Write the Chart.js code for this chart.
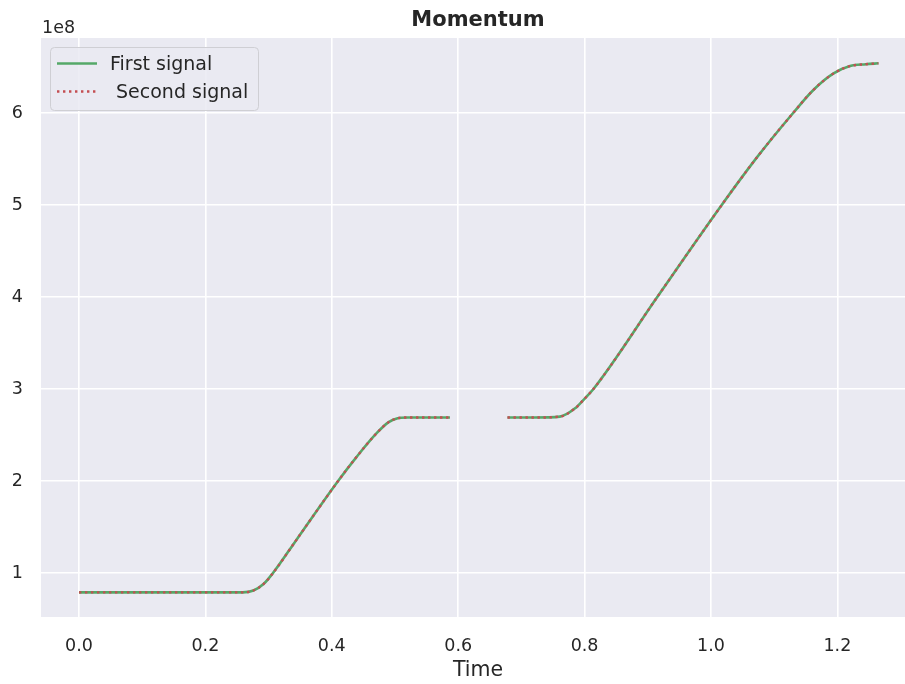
<!DOCTYPE html>
<html>
<head>
<meta charset="utf-8">
<script src="https://cdn.jsdelivr.net/npm/chart.js@4/dist/chart.umd.min.js"></script>
<style>
  html, body { margin: 0; padding: 0; background: #ffffff; }
  #wrap { width: 905px; height: 684px; }
</style>
</head>
<body>
<div id="wrap"><canvas id="chart" width="905" height="684"></canvas></div>
<script>
// Sampled momentum trace (time in s, momentum in units of the 1e8 offset)
const time = [0.000, 0.100, 0.200, 0.259, 0.276, 0.292, 0.307, 0.344, 0.410, 0.439, 0.471, 0.490, 0.503, 0.520, 0.587,
              0.630,
              0.678, 0.720, 0.761, 0.785, 0.798, 0.814, 0.915, 1.017, 1.073, 1.130, 1.162, 1.194, 1.220, 1.245, 1.265];
const firstSignal = [0.79, 0.79, 0.79, 0.79, 0.81, 0.88, 1.00, 1.36, 2.00, 2.26, 2.52, 2.64, 2.68, 2.69, 2.69,
                     null,
                     2.69, 2.69, 2.70, 2.79, 2.88, 3.00, 4.00, 5.00, 5.52, 6.00, 6.25, 6.43, 6.51, 6.53, 6.54];
const secondSignal = [0.79, 0.79, 0.79, 0.79, 0.81, 0.88, 1.00, 1.36, 2.00, 2.26, 2.52, 2.64, 2.68, 2.69, 2.69,
                      null,
                      2.69, 2.69, 2.70, 2.79, 2.88, 3.00, 4.00, 5.00, 5.52, 6.00, 6.25, 6.43, 6.51, 6.53, 6.54];
const seriesNames = ['First signal', ' Second signal'];
const scaleExp = 1e8;

const xTicks = [0.0, 0.2, 0.4, 0.6, 0.8, 1.0, 1.2];
const xTickLabels = ['0.0', '0.2', '0.4', '0.6', '0.8', '1.0', '1.2'];
const yTicks = [1, 2, 3, 4, 5, 6];
const yTickLabels = ['1', '2', '3', '4', '5', '6'];

const chartTitle = 'Momentum';
const xAxisTitle = 'Time';
const offsetText = '1e8';

const TEXT = '#262626';
const FONT = 'DejaVu Sans';
// horizontal centre of the axes box (the box runs past the right edge of the canvas)
const AXES_CENTER_X = 478;

const toPoints = (vals) => time.map((t, i) => ({ x: t, y: vals[i] === null ? null : vals[i] * scaleExp }));

// Axes face, titles, offset text and legend drawn on the canvas
const decorations = {
  id: 'decorations',
  beforeDraw(chart) {
    const { ctx, chartArea: a } = chart;
    ctx.save();
    ctx.fillStyle = '#EAEAF2';
    ctx.fillRect(a.left, a.top, a.right - a.left, a.bottom - a.top);
    ctx.restore();
  },
  afterDraw(chart) {
    const { ctx, chartArea: a } = chart;
    ctx.save();
    ctx.fillStyle = TEXT;
    ctx.textBaseline = 'middle';

    // title
    ctx.font = 'bold 21px "' + FONT + '"';
    ctx.textAlign = 'center';
    ctx.fillText(chartTitle, AXES_CENTER_X, 21);

    // x axis label
    ctx.font = '20.5px "' + FONT + '"';
    ctx.fillText(xAxisTitle, AXES_CENTER_X, 671);

    // offset label for the y axis
    ctx.font = '17.5px "' + FONT + '"';
    ctx.textAlign = 'left';
    ctx.fillText(offsetText, a.left + 1, 28.5);

    // legend box
    const bx = 50.5, by = 47.5, bw = 208, bh = 63, r = 4;
    ctx.beginPath();
    ctx.moveTo(bx + r, by);
    ctx.arcTo(bx + bw, by, bx + bw, by + bh, r);
    ctx.arcTo(bx + bw, by + bh, bx, by + bh, r);
    ctx.arcTo(bx, by + bh, bx, by, r);
    ctx.arcTo(bx, by, bx + bw, by, r);
    ctx.closePath();
    ctx.fillStyle = 'rgba(234,234,242,0.85)';
    ctx.fill();
    ctx.strokeStyle = '#CFCFD4';
    ctx.lineWidth = 1;
    ctx.stroke();

    const rows = [63.5, 91.5];
    chart.data.datasets.forEach((ds, i) => {
      const y = rows[i];
      ctx.beginPath();
      ctx.setLineDash(ds.borderDash || []);
      ctx.strokeStyle = ds.borderColor;
      ctx.lineWidth = ds.borderWidth;
      ctx.moveTo(57, y);
      ctx.lineTo(97, y);
      ctx.stroke();
      ctx.setLineDash([]);
      ctx.fillStyle = TEXT;
      ctx.font = '19px "' + FONT + '"';
      ctx.textAlign = 'left';
      ctx.textBaseline = 'middle';
      ctx.fillText(ds.label, 110, y + 1.5);
    });
    ctx.restore();
  }
};

new Chart(document.getElementById('chart'), {
  type: 'line',
  data: {
    datasets: [
      {
        label: seriesNames[0],
        data: toPoints(firstSignal),
        borderColor: '#55A868',
        borderWidth: 2.6,
        pointRadius: 0,
        fill: false,
        spanGaps: false,
        cubicInterpolationMode: 'monotone',
        order: 2
      },
      {
        label: seriesNames[1],
        data: toPoints(secondSignal),
        borderColor: '#C44E52',
        borderWidth: 2.4,
        borderDash: [2.4, 3.6],
        pointRadius: 0,
        fill: false,
        spanGaps: false,
        cubicInterpolationMode: 'monotone',
        order: 1
      }
    ]
  },
  options: {
    responsive: false,
    animation: false,
    devicePixelRatio: 1,
    layout: { padding: { top: 38, left: 0, right: 0, bottom: 0 } },
    plugins: {
      legend: { display: false },
      tooltip: { enabled: false },
      title: { display: false }
    },
    scales: {
      x: {
        type: 'linear',
        min: -0.0601,
        max: 1.307,
        afterBuildTicks: (s) => { s.ticks = xTicks.map(v => ({ value: v })); },
        afterFit: (s) => { s.height = 67; },
        ticks: {
          color: TEXT,
          font: { family: FONT, size: 17.5 },
          padding: 19,
          maxRotation: 0,
          autoSkip: false,
          callback: (v) => { const i = xTicks.findIndex(t => Math.abs(t - v) < 1e-9); return i >= 0 ? xTickLabels[i] : ''; }
        },
        grid: { color: '#ffffff', lineWidth: 1.6, drawTicks: false },
        border: { display: false }
      },
      y: {
        type: 'linear',
        min: 0.522 * scaleExp,
        max: 6.815 * scaleExp,
        afterBuildTicks: (s) => { s.ticks = yTicks.map(v => ({ value: v * scaleExp })); },
        afterFit: (s) => { s.width = 41; },
        ticks: {
          color: TEXT,
          font: { family: FONT, size: 17.5 },
          padding: 18,
          autoSkip: false,
          callback: (v) => { const i = yTicks.findIndex(t => Math.abs(t * scaleExp - v) < 1); return i >= 0 ? yTickLabels[i] : ''; }
        },
        grid: { color: '#ffffff', lineWidth: 1.6, drawTicks: false },
        border: { display: false }
      }
    }
  },
  plugins: [decorations]
});
</script>
</body>
</html>
